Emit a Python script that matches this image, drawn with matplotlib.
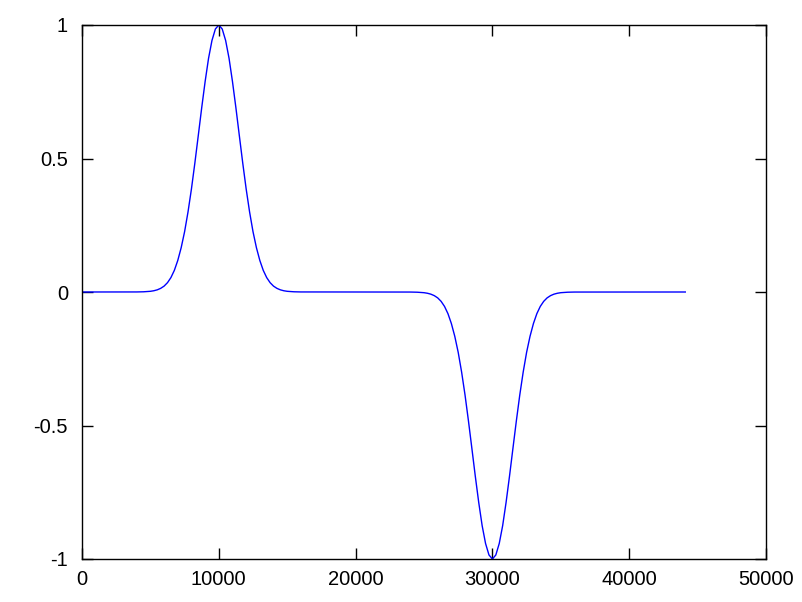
import matplotlib
matplotlib.use("Agg")
import matplotlib.pyplot as plt

# Values (curve samples)
pos_x = [0, 4000, 4500, 5000, 5250, 5500, 5750, 6000, 6250, 6500, 6750, 7000, 7250, 7500, 7750,
         8000, 8250, 8500, 8750, 9000, 9250, 9500, 9750, 10000, 10250, 10500, 10750, 11000,
         11250, 11500, 11750, 12000, 12250, 12500, 12750, 13000, 13250, 13500, 13750, 14000,
         14250, 14500, 14750, 15000, 15500, 16000]
pos_y = [0, 0.0002, 0.0008, 0.0026, 0.0047, 0.0081, 0.0136, 0.022, 0.035, 0.054, 0.081, 0.118,
         0.166, 0.226, 0.300, 0.386, 0.483, 0.586, 0.690, 0.788, 0.875, 0.942, 0.985, 1.0,
         0.985, 0.942, 0.875, 0.788, 0.690, 0.586, 0.483, 0.386, 0.300, 0.226, 0.166, 0.118,
         0.081, 0.054, 0.035, 0.022, 0.0136, 0.0081, 0.0047, 0.0026, 0.0008, 0.0002]
neg_x = [24000, 24500, 25000, 25250, 25500, 25750, 26000, 26250, 26500, 26750, 27000, 27250,
         27500, 27750, 28000, 28250, 28500, 28750, 29000, 29250, 29500, 29750, 30000, 30250,
         30500, 30750, 31000, 31250, 31500, 31750, 32000, 32250, 32500, 32750, 33000, 33250,
         33500, 33750, 34000, 34250, 34500, 34750, 35000, 35500, 36000, 44100]
neg_y = [-0.0002, -0.0008, -0.0026, -0.0047, -0.0081, -0.0136, -0.022, -0.035, -0.054, -0.081,
         -0.118, -0.166, -0.226, -0.300, -0.386, -0.483, -0.586, -0.690, -0.788, -0.875, -0.942,
         -0.985, -1.0, -0.985, -0.942, -0.875, -0.788, -0.690, -0.586, -0.483, -0.386, -0.300,
         -0.226, -0.166, -0.118, -0.081, -0.054, -0.035, -0.022, -0.0136, -0.0081, -0.0047,
         -0.0026, -0.0008, -0.0002, 0]

x_ticks = [0, 10000, 20000, 30000, 40000, 50000]
y_ticks = [-1, -0.5, 0, 0.5, 1]
y_tick_labels = ["-1", "-0.5", "0", "0.5", "1"]

plt.rcParams['font.family'] = ['Liberation Sans', 'DejaVu Sans']

fig = plt.figure(figsize=(8.02, 6.02), dpi=100)
ax = fig.add_axes([82/802, 1-559/602, (766-82)/802, (559-25)/602])

xs = pos_x + neg_x
ys = pos_y + neg_y
ax.plot(xs, ys, color='#0000ff', linewidth=1.0)

ax.set_xlim(0, 50000)
ax.set_ylim(-1, 1)
ax.set_xticks(x_ticks)
ax.set_xticklabels([str(v) for v in x_ticks])
ax.set_yticks(y_ticks)
ax.set_yticklabels(y_tick_labels)
ax.tick_params(direction='in', length=8, width=1, top=True, right=True,
               labelsize=14.5, colors='black')
ax.tick_params(axis='x', pad=8)
ax.tick_params(axis='y', pad=10)
for s in ax.spines.values():
    s.set_linewidth(1.0)

fig.savefig("out.png", dpi=100)
